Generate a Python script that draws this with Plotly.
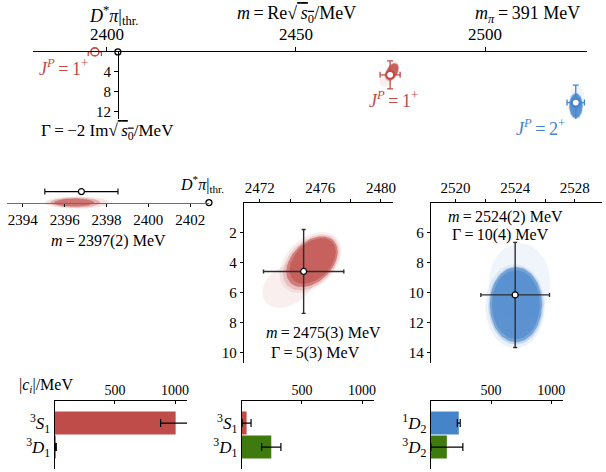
import numpy as np
import plotly.graph_objects as go

W, H = 606, 472
RED = "rgb(192,76,74)"
BLUE = "rgb(70,132,202)"
GREEN = "rgb(62,122,14)"
FONT = "Liberation Serif"

# ---------------- data ----------------
thr = 2402.9                      # D* pi threshold (MeV)
bound_m = [2396.8]                # bound state mass
bound_m_err = [1.75]
res_m = [2474.9, 2524.0]          # resonance masses (1+, 2+)
res_G = [4.6, 10.15]              # resonance widths
res_m_err = [2.65, 2.3]
res_G_err = [2.8, 3.5]

# sample-cloud ellipses: centre m, centre Gamma, semi-axes, angle(deg), alpha
red_cx = [2473.9, 2475.35, 2475.4, 2475.45, 2475.5]
red_cy = [5.5, 4.0, 4.0, 3.95, 3.9]
red_a = [1.9, 2.4, 2.2, 2.0, 1.8]
red_b = [1.3, 1.6, 1.45, 1.32, 1.18]
red_phi = [-35, -45, -45, -45, -45]
red_alpha = [0.09, 0.1, 0.2, 0.6, 0.6]

blue_cx = [2524.3, 2524.0, 2524.05, 2524.05, 2524.05]
blue_cy = [9.3, 10.9, 10.85, 10.8, 10.8]
blue_a = [2.05, 2.0, 1.85, 1.75, 1.6]
blue_b = [2.6, 2.8, 2.6, 2.5, 2.3]
blue_alpha = [0.08, 0.1, 0.25, 0.6, 0.55]

bs_cx = [2396.6, 2396.5, 2396.45]
bs_a = [1.55, 1.2, 0.95]
bs_b = [0.3, 0.25, 0.2]
bs_alpha = [0.15, 0.35, 0.6]

# couplings |c_i| / MeV
lab_T1 = ["<sup>3</sup><i>S</i><sub>1</sub>", "<sup>3</sup><i>D</i><sub>1</sub>"]
lab_E = ["<sup>1</sup><i>D</i><sub>2</sub>", "<sup>3</sup><i>D</i><sub>2</sub>"]
c_bound = [1005, 8]
c_bound_err = [125, 5]
c_res1 = [40, 245]
c_res1_err = [37, 80]
c_res2 = [232, 133]
c_res2_err = [12, 133]


def px(x):
    return x / W


def py(y):
    return 1 - y / H


def ellipse(cx, cy, a, b, phi_deg, n=80):
    t = np.linspace(0, 2 * np.pi, n)
    ph = np.deg2rad(phi_deg)
    x = cx + a * np.cos(t) * np.cos(ph) - b * np.sin(t) * np.sin(ph)
    y = cy + a * np.cos(t) * np.sin(ph) + b * np.sin(t) * np.cos(ph)
    return x, y


def rgba(rgb, a):
    return rgb.replace("rgb", "rgba").replace(")", f",{a})")


fig = go.Figure()


def add_blobs(xa, ya, cxs, cys, aa, bb, phis, alphas, col):
    for cx, cy, a, b, ph, al in zip(cxs, cys, aa, bb, phis, alphas):
        x, y = ellipse(cx, cy, a, b, ph)
        fig.add_trace(go.Scatter(x=x, y=y, mode="lines", line=dict(width=0),
                                 fill="toself", fillcolor=rgba(col, al),
                                 xaxis=xa, yaxis=ya, hoverinfo="skip"))


# ---------- top panel (complex plane) ----------
add_blobs("x", "y", red_cx, red_cy, red_a, red_b, red_phi, red_alpha, RED)
add_blobs("x", "y", blue_cx, blue_cy, blue_a, blue_b, [0] * 5, blue_alpha, BLUE)
for m, G, me, Ge, col in zip(res_m, res_G, res_m_err, res_G_err, [RED, BLUE]):
    fig.add_trace(go.Scatter(x=[m], y=[G], mode="markers", xaxis="x", yaxis="y",
                             marker=dict(size=8, color="white", line=dict(color=col, width=2.2)),
                             error_x=dict(type="data", array=[me], color=col, thickness=1.3, width=3),
                             error_y=dict(type="data", array=[Ge], color=col, thickness=1.3, width=3),
                             cliponaxis=False))
fig.add_trace(go.Scatter(x=bound_m, y=[0], mode="markers", xaxis="x", yaxis="y",
                         marker=dict(size=8, color="white", line=dict(color=RED, width=1.6)),
                         error_x=dict(type="data", array=bound_m_err, color=RED, thickness=1.3, width=4),
                         cliponaxis=False))
fig.add_trace(go.Scatter(x=[thr], y=[0], mode="markers", xaxis="x", yaxis="y",
                         marker=dict(size=6, color="white", line=dict(color="black", width=1.3)),
                         cliponaxis=False))

# ---------- middle-left (bound state on real axis) ----------
add_blobs("x2", "y2", bs_cx, [0] * 3, bs_a, bs_b, [0] * 3, bs_alpha, RED)
fig.add_trace(go.Scatter(x=bound_m, y=[0.55], mode="markers", xaxis="x2", yaxis="y2",
                         marker=dict(size=6, color="white", line=dict(color="black", width=1.2)),
                         error_x=dict(type="data", array=bound_m_err, color="black", thickness=1.1, width=3),
                         cliponaxis=False))
fig.add_trace(go.Scatter(x=[thr], y=[0], mode="markers", xaxis="x2", yaxis="y2",
                         marker=dict(size=6, color="white", line=dict(color="black", width=1.3)),
                         cliponaxis=False))

# ---------- middle-centre and middle-right ----------
add_blobs("x3", "y3", red_cx, red_cy, red_a, red_b, red_phi, red_alpha, RED)
add_blobs("x4", "y4", blue_cx, blue_cy, blue_a, blue_b, [0] * 5, blue_alpha, BLUE)
for i, (xa, ya) in enumerate([("x3", "y3"), ("x4", "y4")]):
    fig.add_trace(go.Scatter(x=[res_m[i]], y=[res_G[i]], mode="markers", xaxis=xa, yaxis=ya,
                             marker=dict(size=6, color="white", line=dict(color="black", width=1.2)),
                             error_x=dict(type="data", array=[res_m_err[i]], color="rgb(45,45,45)", thickness=1.4, width=2),
                             error_y=dict(type="data", array=[res_G_err[i]], color="rgb(45,45,45)", thickness=1.4, width=2),
                             cliponaxis=False))

# ---------- bottom bars ----------
bar_sets = [
    ("x5", "y5", c_bound, c_bound_err, [RED, GREEN]),
    ("x6", "y6", c_res1, c_res1_err, [RED, GREEN]),
    ("x7", "y7", c_res2, c_res2_err, [BLUE, GREEN]),
]
for xa, ya, vals, errs, cols in bar_sets:
    fig.add_trace(go.Bar(x=vals, y=[0, 1], orientation="h", width=0.96,
                         marker=dict(color=cols, line=dict(width=0)),
                         error_x=dict(type="data", array=errs, color="black", thickness=1.2, width=4),
                         xaxis=xa, yaxis=ya))

# ---------- axes ----------
base = dict(showline=True, linecolor="black", linewidth=1, showgrid=False, zeroline=False,
            ticks="outside", ticklen=3, tickcolor="black", tickwidth=1,
            tickfont=dict(family=FONT, size=15, color="black"), fixedrange=True)

top_x0, top_x1 = 2380.4, 2527.0
top_dom = [px(33), px(590)]
thr_pos = top_dom[0] + (thr - top_x0) / (top_x1 - top_x0) * (top_dom[1] - top_dom[0])

layout_axes = dict(
    xaxis=dict(base, domain=top_dom, range=[top_x0, top_x1], side="top", anchor="y",
               tickvals=[2400, 2450, 2500], ticklen=4, tickfont=dict(family=FONT, size=17, color="black")),
    yaxis=dict(base, domain=[py(119), py(52)], range=[13.4, 0], anchor="free", position=thr_pos,
               tickvals=[4, 8, 12], ticklen=4, tickfont=dict(family=FONT, size=15, color="black")),
    xaxis2=dict(base, domain=[px(7), px(210)], range=[2393.24, thr], anchor="free", position=py(203),
                side="bottom", tickvals=[2394, 2396, 2398, 2400, 2402], linecolor="rgb(110,110,110)",
                ticklen=3),
    yaxis2=dict(domain=[py(223), py(183)], range=[-1, 1], visible=False, anchor="x2", fixedrange=True),
    xaxis3=dict(base, domain=[px(245), px(395)], range=[2470.95, 2480.8], side="top", anchor="y3",
                tickvals=[2472, 2476, 2480], minor=dict(tickvals=[2474, 2478], ticks="outside", ticklen=3, tickcolor="black")),
    yaxis3=dict(base, domain=[py(364), py(203)], range=[10.73, 0], anchor="x3", tickvals=[2, 4, 6, 8, 10]),
    xaxis4=dict(base, domain=[px(433), px(605)], range=[2518.35, 2529.82], side="top", anchor="y4",
                tickvals=[2520, 2524, 2528], minor=dict(tickvals=[2522, 2526], ticks="outside", ticklen=3, tickcolor="black")),
    yaxis4=dict(base, domain=[py(364), py(203)], range=[14.7, 4.0], anchor="x4", tickvals=[6, 8, 10, 12, 14]),
)
for k, (dom, labs) in enumerate([((55, 188), lab_T1), ((243, 376), lab_T1), ((433, 566), lab_E)]):
    n = k + 5
    layout_axes[f"xaxis{n}"] = dict(base, domain=[px(dom[0]), px(dom[1])], range=[0, 1100], side="top",
                                    anchor=f"y{n}", tickvals=[500, 1000], ticks="inside", ticklen=3,
                                    tickfont=dict(family=FONT, size=14, color="black"))
    layout_axes[f"yaxis{n}"] = dict(base, domain=[py(470), py(402)], range=[1.917, -0.917], anchor=f"x{n}",
                                    tickvals=[0, 1], ticktext=labs, ticks="",
                                    tickfont=dict(family=FONT, size=17, color="black"))


def ann(text, x, y, size=15, color="black", xanchor="center"):
    return dict(text=text, x=px(x), y=py(y), xref="paper", yref="paper", showarrow=False,
                xanchor=xanchor, yanchor="middle", font=dict(family=FONT, size=size, color=color))


EQ = "\u2009=\u2009"
sqrt_s0 = "√<span style='text-decoration:overline'>\u2009<i>s</i><sub>0</sub></span>"
annotations = [
    ann("<i>D</i><sup>*</sup><i>π</i>|<sub>thr.</sub>", 114, 16, 18),
    ann("<i>m</i>" + EQ + "Re" + sqrt_s0 + "/MeV", 298, 15, 18),
    ann("<i>m<sub>π</sub></i>" + EQ + "391 MeV", 530, 15, 18),
    ann("Γ" + EQ + "−2 Im" + sqrt_s0 + "/MeV", 108, 132, 17),
    ann("<i>J<sup>P</sup></i>" + EQ + "1<sup>+</sup>", 64, 68, 18, RED),
    ann("<i>J<sup>P</sup></i>" + EQ + "1<sup>+</sup>", 395, 100, 18, RED),
    ann("<i>J<sup>P</sup></i>" + EQ + "2<sup>+</sup>", 543, 128, 18, BLUE),
    ann("<i>D</i><sup>*</sup><i>π</i>|<sub>thr.</sub>", 203, 184, 16),
    ann("<i>m</i>" + EQ + "2397(2) MeV", 109, 242, 16),
    ann("<i>m</i>" + EQ + "2475(3) MeV", 325, 334, 16),
    ann("Γ" + EQ + "5(3) MeV", 317, 354, 16),
    ann("<i>m</i>" + EQ + "2524(2) MeV", 508, 217, 16),
    ann("Γ" + EQ + "10(4) MeV", 503, 235, 16),
    ann("|<i>c<sub>i</sub></i>|/MeV", 46, 386, 16),
]

fig.update_layout(width=W, height=H, margin=dict(l=0, r=0, t=0, b=0), showlegend=False,
                  plot_bgcolor="white", paper_bgcolor="white", barmode="overlay",
                  font=dict(family=FONT, size=15, color="black"),
                  annotations=annotations, **layout_axes)

fig.write_html("out.html")
